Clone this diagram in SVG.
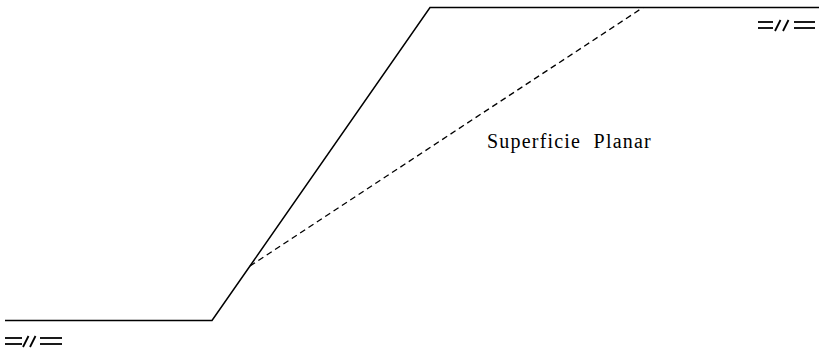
<svg xmlns="http://www.w3.org/2000/svg" width="819" height="355" viewBox="0 0 819 355">
<style>
.ln{fill:none;stroke:#000;stroke-width:1.5}
.dash{fill:none;stroke:#000;stroke-width:1.3;stroke-dasharray:6 4}
.sym{fill:none;stroke:#000;stroke-width:1.8}
.lbl{font-family:"Liberation Serif","Times New Roman",serif;font-size:20px;letter-spacing:1.2px;fill:#000;white-space:pre}
</style>
<rect width="819" height="355" fill="#fff"/>
<g id="ground">
<polyline class="ln" points="5,320.5 212,320.5 430,7.5 819,7.5"/>
</g>
<g id="connectors">
<line class="dash" x1="250" y1="266" x2="643" y2="7.5"/>
</g>
<g id="label">
<text class="lbl" x="487" y="148">Superficie  Planar</text>
</g>
<g id="break-bottom" class="sym">
<line x1="5" y1="338" x2="22" y2="338"/>
<line x1="5" y1="344" x2="22" y2="344"/>
<line x1="23" y1="347" x2="28.5" y2="336"/>
<line x1="30" y1="347" x2="35.5" y2="336"/>
<line x1="40" y1="338" x2="62" y2="338"/>
<line x1="40" y1="344" x2="62" y2="344"/>
</g>
<g id="break-top" class="sym">
<line x1="758" y1="22" x2="773" y2="22"/>
<line x1="758" y1="28" x2="773" y2="28"/>
<line x1="775" y1="31" x2="780.5" y2="20"/>
<line x1="783" y1="31" x2="788.5" y2="20"/>
<line x1="794" y1="22" x2="815" y2="22"/>
<line x1="794" y1="28" x2="815" y2="28"/>
</g>
</svg>
